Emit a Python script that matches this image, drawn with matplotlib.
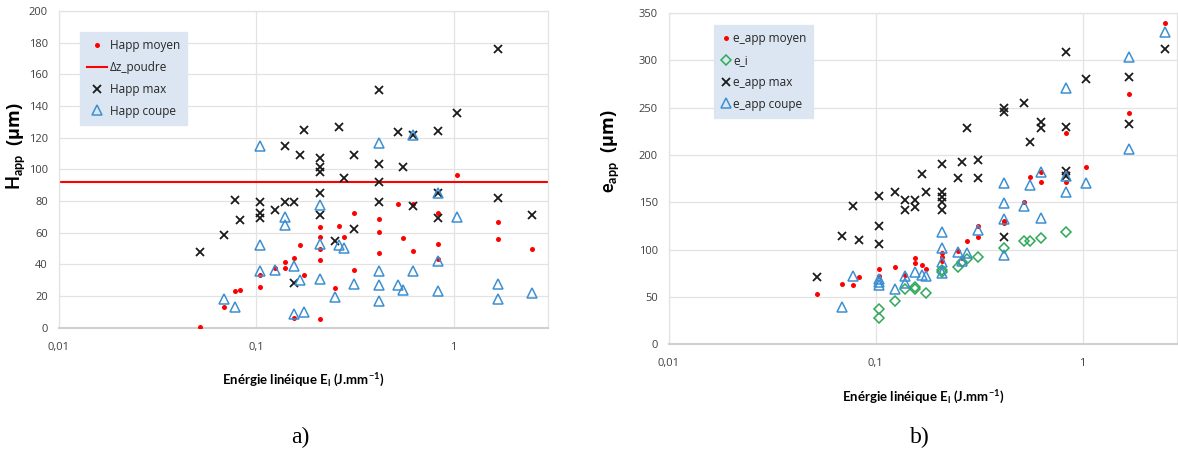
import matplotlib
matplotlib.use("Agg")
import matplotlib.pyplot as plt

plt.rcParams['font.family'] = ['Open Sans', 'DejaVu Sans']
plt.rcParams['mathtext.fontset'] = 'custom'
plt.rcParams['mathtext.rm'] = 'Lato'
plt.rcParams['mathtext.bf'] = 'Lato:bold'

# ---- a) Happ vs energie lineique ----
a_moyen_E = [0.052, 0.069, 0.078, 0.083, 0.104, 0.104, 0.124, 0.139, 0.139, 0.155, 0.155, 0.167, 0.174,
             0.21, 0.21, 0.21, 0.21, 0.21, 0.25, 0.262, 0.277, 0.312, 0.312, 0.417, 0.417, 0.417,
             0.52, 0.555, 0.626, 0.626, 0.835, 0.835, 0.835, 1.04, 1.68, 1.68, 2.5]
a_moyen_H = [0.5, 13, 23.4, 24, 33.3, 26, 38, 41.5, 38, 44, 6, 52, 33.3,
             63.6, 57, 50, 43, 5.3, 25, 64.2, 57.2, 72.5, 36.7, 68.7, 60.5, 47,
             78.3, 56.7, 78, 48.2, 72.2, 53, 43.2, 96.7, 66.6, 55.8, 50]

a_max_E = [0.052, 0.069, 0.078, 0.083, 0.104, 0.104, 0.104, 0.124, 0.139, 0.139, 0.155, 0.155, 0.167, 0.174,
           0.21, 0.21, 0.21, 0.21, 0.21, 0.25, 0.262, 0.277, 0.312, 0.312, 0.417, 0.417, 0.417, 0.417,
           0.52, 0.555, 0.626, 0.626, 0.835, 0.835, 0.835, 1.04, 1.68, 1.68, 2.5]
a_max_H = [47.6, 58.8, 80.7, 68, 79.6, 72.3, 69.5, 74.4, 115, 79.2, 79.2, 28, 109, 124.8,
           107, 101.7, 98.5, 84.9, 71.2, 55, 126.6, 94.8, 109, 62.3, 150, 103.2, 91.9, 79.2,
           123.6, 101.5, 121.7, 76.7, 124.5, 84.9, 69.5, 135.6, 175.9, 82.1, 71.2]

a_coupe_E = [0.069, 0.078, 0.104, 0.104, 0.104, 0.124, 0.139, 0.139, 0.155, 0.155, 0.167, 0.174,
             0.21, 0.21, 0.21, 0.25, 0.262, 0.277, 0.312, 0.417, 0.417, 0.417, 0.417,
             0.52, 0.555, 0.626, 0.626, 0.835, 0.835, 0.835, 1.04, 1.68, 1.68, 2.5]
a_coupe_H = [17.9, 12.9, 114.8, 52, 35.8, 36.4, 70, 64.7, 38.8, 8.9, 30, 9.7,
             77.8, 52.8, 31, 19.6, 52.5, 50.6, 27.8, 116.9, 35.8, 26.8, 16.9,
             26.8, 23.7, 121.7, 35.8, 84.9, 42, 23.1, 69.6, 27.8, 17.9, 21.9]

dz_poudre = 92

# ---- b) e_app vs energie lineique ----
b_moyen_E = [0.052, 0.069, 0.078, 0.083, 0.104, 0.104, 0.124, 0.139, 0.155, 0.155, 0.167, 0.174,
             0.21, 0.21, 0.21, 0.25, 0.262, 0.277, 0.312, 0.312, 0.417, 0.417,
             0.52, 0.555, 0.626, 0.626, 0.835, 0.835, 0.835, 1.04, 1.68, 1.68, 2.5]
b_moyen_e = [53.1, 63.4, 62.6, 71.1, 79.5, 72.5, 81.6, 73.7, 91, 85.4, 84, 79.2,
             96.8, 92.6, 88.3, 98.4, 90.8, 109.6, 125.5, 113.5, 130.5, 128,
             150, 176.4, 182, 171.8, 222.9, 182.3, 171.8, 187.3, 264.4, 244, 339]

b_ei_E = [0.104, 0.104, 0.124, 0.139, 0.155, 0.155, 0.174, 0.21, 0.21, 0.25, 0.262, 0.277,
          0.312, 0.417, 0.52, 0.555, 0.626, 0.835]
b_ei_e = [37.3, 27.8, 45.7, 58.4, 60.5, 58, 53.7, 78.5, 76, 81.7, 87.3, 90.1,
          92.6, 102, 109.1, 109.1, 112.6, 118.3]

b_max_E = [0.052, 0.069, 0.078, 0.083, 0.104, 0.104, 0.104, 0.124, 0.139, 0.139, 0.155, 0.155, 0.167, 0.174,
           0.21, 0.21, 0.21, 0.21, 0.21, 0.25, 0.262, 0.277, 0.312, 0.312, 0.417, 0.417, 0.417,
           0.52, 0.555, 0.626, 0.626, 0.835, 0.835, 0.835, 0.835, 1.04, 1.68, 1.68, 2.5]
b_max_e = [71.4, 114.7, 146.1, 110.2, 157, 125, 106, 161.2, 152.4, 141.9, 152.4, 145.4, 179.6, 161.2,
           190.1, 161.2, 155.9, 150.6, 141.9, 176, 193, 228.8, 194.7, 176, 249.3, 245.1, 113,
           254.6, 214, 235.1, 228.8, 309, 229.9, 183.4, 178, 280.2, 282.7, 232.4, 311.6]

b_coupe_E = [0.069, 0.078, 0.104, 0.104, 0.104, 0.124, 0.139, 0.139, 0.155, 0.167, 0.174,
             0.21, 0.21, 0.21, 0.21, 0.25, 0.262, 0.277, 0.312, 0.417, 0.417, 0.417, 0.417,
             0.52, 0.555, 0.626, 0.626, 0.835, 0.835, 0.835, 1.04, 1.68, 1.68, 2.5]
b_coupe_e = [39, 72.1, 69.5, 65.5, 62.6, 58.6, 71.8, 64.8, 76.5, 73.5, 72.1,
             118.3, 101.7, 87.3, 75.6, 97.8, 88, 96.1, 120.7, 170, 148.9, 132, 94.3,
             146.1, 168.3, 182.3, 133.7, 270.4, 178.1, 161.2, 170, 303.8, 206.3, 329.6]

x_ticks = [0.01, 0.1, 1]
x_ticklabels = ['0,01', '0,1', '1']

RED = '#ff0000'
BLUE = '#3d8fd1'
GREEN = '#2eaa57'
GRID = '#e3e3e3'
LEG_BG = '#dce6f2'

xlabel = r'Enérgie linéique $\mathbf{E_l}$ (J.mm$^{\mathbf{-1}}$)'


def style_axes(ax, xmax, ymax, ystep):
    ax.set_xscale('log')
    ax.set_xlim(0.01, xmax)
    ax.set_ylim(0, ymax)
    ax.set_xticks(x_ticks)
    ax.set_xticklabels(x_ticklabels)
    ax.minorticks_off()
    ax.set_yticks(range(0, ymax + 1, ystep))
    ax.tick_params(length=0, labelsize=8, colors='#404040', pad=8)
    ax.tick_params(axis='x', pad=10)
    ax.grid(True, color=GRID, linewidth=0.9)
    ax.set_axisbelow(True)
    for s in ['top', 'right', 'left']:
        ax.spines[s].set_color(GRID)
        ax.spines[s].set_linewidth(0.9)
    ax.spines['bottom'].set_color('#d0d0d0')
    ax.spines['bottom'].set_linewidth(1.5)


fig = plt.figure(figsize=(11.78, 4.59), dpi=100)

# panel a
ax1 = fig.add_axes([59 / 1178, 1 - 327.7 / 459, 489 / 1178, 316.7 / 459])
style_axes(ax1, 3.01, 200, 20)
ax1.plot(a_moyen_E, a_moyen_H, 'o', color=RED, ms=3.6, mew=0, label='Happ moyen', zorder=3)
ax1.axhline(dz_poudre, color=RED, lw=1.5, label='Δz_poudre', zorder=2)
ax1.plot(a_max_E, a_max_H, 'x', color='#1a1a1a', ms=6, mew=1.3, label='Happ max', zorder=3)
ax1.plot(a_coupe_E, a_coupe_H, '^', color=BLUE, ms=6.5, mew=1.1, fillstyle='none',
         label='Happ coupe', zorder=4)
ax1.set_ylabel(r'$\mathbf{H_{app}}$  (µm)', fontsize=13, fontweight='bold')
ax1.yaxis.set_label_coords(-0.066, 0.574)
ax1.set_xlabel(xlabel, fontsize=9.5, fontweight='bold', family='Lato', labelpad=14)
ax1.legend(loc='upper left', bbox_to_anchor=(0.043, 0.934), borderaxespad=0,
           fontsize=8.5, frameon=True, fancybox=False, framealpha=1,
           facecolor=LEG_BG, edgecolor=LEG_BG, labelspacing=0.75,
           handlelength=1.7, handletextpad=0.2, borderpad=0.6, labelcolor='#262626')

# panel b
ax2 = fig.add_axes([669 / 1178, 1 - 344.3 / 459, 508 / 1178, 331.3 / 459])
style_axes(ax2, 2.86, 350, 50)
ax2.plot(b_moyen_E, b_moyen_e, 'o', color=RED, ms=3.6, mew=0, label='e_app moyen', zorder=3)
ax2.plot(b_ei_E, b_ei_e, 'D', color=GREEN, ms=5, mew=1.1, fillstyle='none', label='e_i', zorder=3)
ax2.plot(b_max_E, b_max_e, 'x', color='#1a1a1a', ms=6, mew=1.3, label='e_app max', zorder=3)
ax2.plot(b_coupe_E, b_coupe_e, '^', color=BLUE, ms=6.5, mew=1.1, fillstyle='none',
         label='e_app coupe', zorder=4)
ax2.set_ylabel(r'$\mathbf{e_{app}}$  (µm)', fontsize=13, fontweight='bold')
ax2.yaxis.set_label_coords(-0.095, 0.583)
ax2.set_xlabel(xlabel, fontsize=9.5, fontweight='bold', family='Lato', labelpad=14)
ax2.legend(loc='upper left', bbox_to_anchor=(0.0886, 0.964), borderaxespad=0,
           fontsize=8.5, frameon=True, fancybox=False, framealpha=1,
           facecolor=LEG_BG, edgecolor=LEG_BG, labelspacing=0.75,
           handlelength=0.8, handletextpad=0.2, borderpad=0.6, labelcolor='#262626')

fig.text(300 / 1178, 1 - 437 / 459, 'a)', fontsize=17, family='Liberation Serif',
         ha='center', va='center')
fig.text(920 / 1178, 1 - 437 / 459, 'b)', fontsize=17, family='Liberation Serif',
         ha='center', va='center')

fig.savefig('out.png', dpi=100)
